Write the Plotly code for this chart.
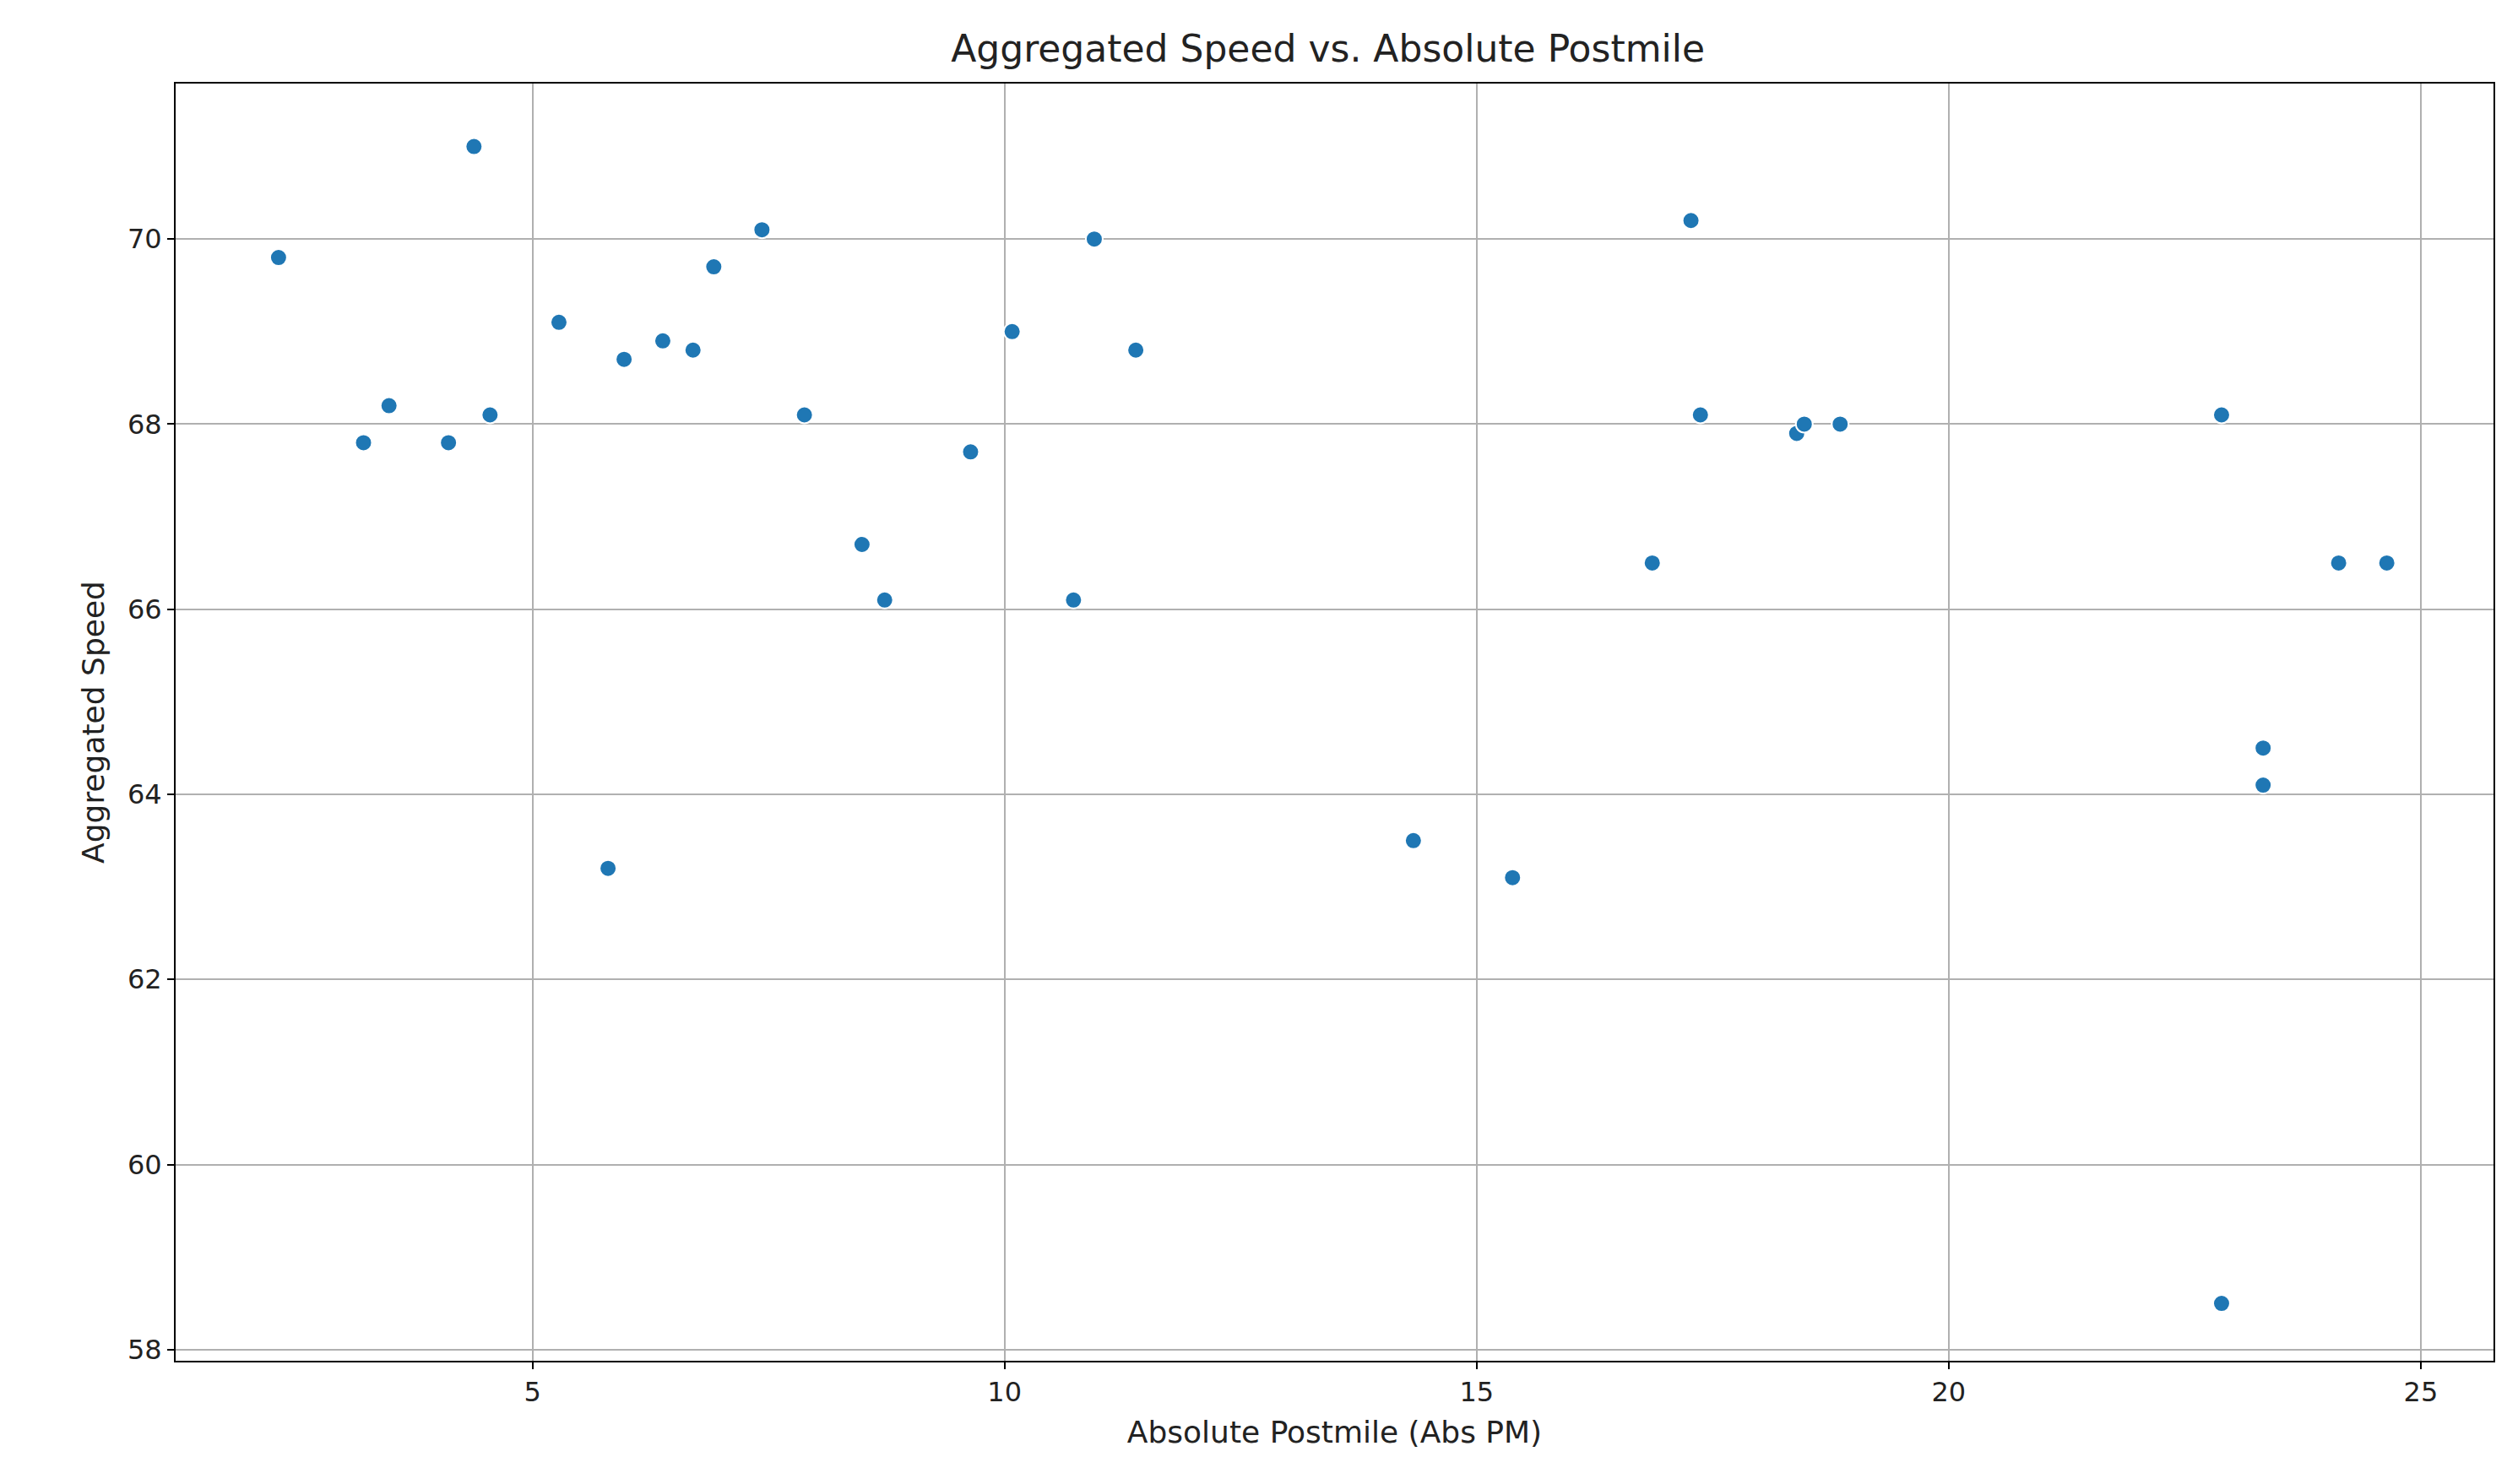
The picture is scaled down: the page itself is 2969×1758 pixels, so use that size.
import plotly.graph_objects as go

abs_pm = [2.31,4.38,3.21,3.48,4.11,4.55,5.28,5.80,5.97,6.38,6.70,6.92,7.43,7.88,8.49,8.73,9.64,10.08,10.73,10.95,11.39,
          14.33,15.38,16.86,17.27,17.37,18.39,18.47,18.85,22.89,22.89,23.33,23.33,24.13,24.64]
speed = [69.8,71.0,67.8,68.2,67.8,68.1,69.1,63.2,68.7,68.9,68.8,69.7,70.1,68.1,66.7,66.1,67.7,69.0,66.1,70.0,68.8,
         63.5,63.1,66.5,70.2,68.1,67.9,68.0,68.0,68.1,58.5,64.5,64.1,66.5,66.5]

fig = go.Figure(go.Scatter(x=abs_pm, y=speed, mode="markers",
    marker=dict(size=20, color="#1f77b4", line=dict(color="white", width=2))))
ax = dict(showline=True, linecolor="black", linewidth=2, mirror=True, gridcolor="#b0b0b0", gridwidth=2,
          zeroline=False, ticks="outside", ticklen=8, tickwidth=2, tickcolor="black",
          tickfont=dict(size=32, color="#222"), title_font=dict(size=36, color="#222"))
fig.update_layout(
    width=2969, height=1758, paper_bgcolor="white", plot_bgcolor="white",
    font=dict(family="DejaVu Sans"),
    title=dict(text="Aggregated Speed vs. Absolute Postmile", x=0.527, xanchor="center", y=0.972, yanchor="middle",
               font=dict(size=44, color="#222")),
    margin=dict(l=200, r=24, t=91, b=154), showlegend=False,
    xaxis=dict(ax, title=dict(text="Absolute Postmile (Abs PM)", standoff=16), range=[1.22, 25.77], tickvals=[5,10,15,20,25]),
    yaxis=dict(ax, title=dict(text="Aggregated Speed", standoff=16), range=[57.88, 71.68], tickvals=[58,60,62,64,66,68,70]),
)
fig.write_html("out.html")
